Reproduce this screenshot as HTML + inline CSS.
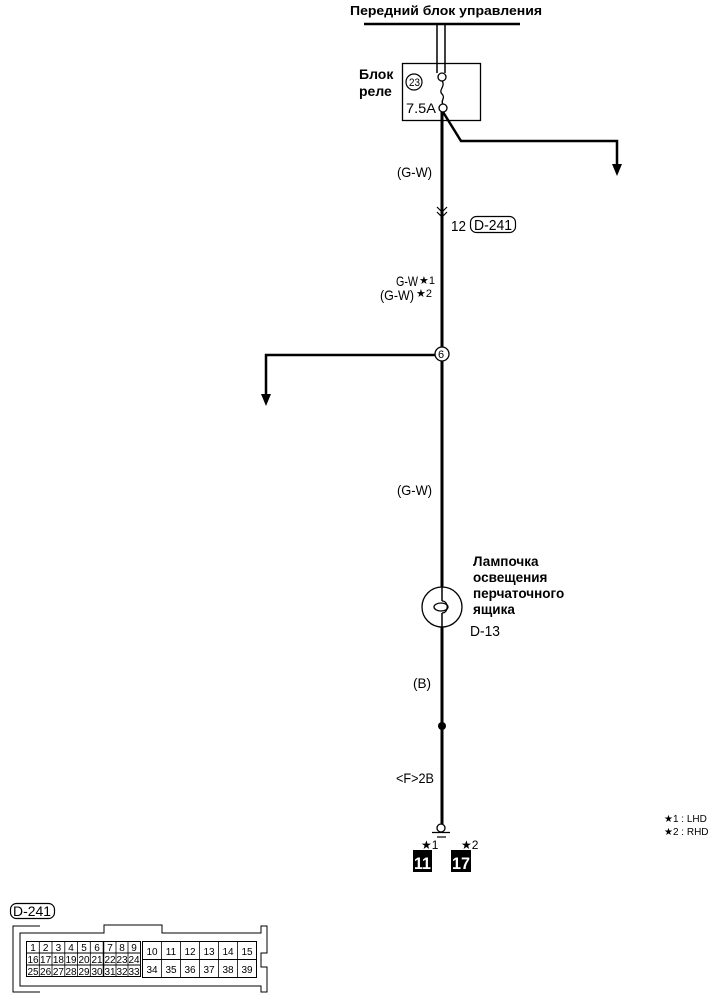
<!DOCTYPE html>
<html><head><meta charset="utf-8"><style>
html,body{margin:0;padding:0;background:#fff;}
svg{display:block;}
text{font-family:"Liberation Sans",sans-serif;}
.b{font-weight:bold;}
.c{font-size:10px;text-anchor:middle;}
</style></head><body>
<svg width="725" height="1004" viewBox="0 0 725 1004" xmlns="http://www.w3.org/2000/svg">
<g stroke="#000" fill="none">
<line x1="364" y1="24" x2="520" y2="24" stroke-width="2.5"/>
<line x1="437" y1="24" x2="437" y2="73" stroke-width="1.5"/>
<line x1="445" y1="24" x2="445" y2="73" stroke-width="1.5"/>
<rect x="402.5" y="63.5" width="78" height="57" stroke-width="1.3"/>
<circle cx="442" cy="77" r="4" stroke-width="1.3" fill="#fff"/>
<circle cx="443" cy="108" r="4" stroke-width="1.3" fill="#fff"/>
<path d="M442 81 C446 86 438 90 442 94 C446 98 440 101 443 104" stroke-width="1.3"/>
<circle cx="414" cy="82" r="8" stroke-width="1.2"/>
<line x1="442" y1="112" x2="442" y2="826" stroke-width="3"/>
<polyline points="443,112 461,141 617,141 617,168" stroke-width="2.5"/>
<polygon points="612,164 622,164 617,176" fill="#000" stroke="none"/>
<polyline points="437,207 442,212 447,207" stroke-width="1.2"/>
<polyline points="437,212 442,217 447,212" stroke-width="1.2"/>
<rect x="470.5" y="216.5" width="45" height="16" rx="6" stroke-width="1.2"/>
<polyline points="435,355 266,355 266,398" stroke-width="2.5"/>
<polygon points="261,394 271,394 266,406" fill="#000" stroke="none"/>
<circle cx="442" cy="354" r="7" fill="#fff" stroke-width="1.3"/>
<circle cx="442" cy="607" r="20" fill="#fff" stroke-width="1.3"/>
<path d="M442 587 L442 601 M442 613 L442 627" stroke-width="1.5"/>
<path d="M442 601 C449 601 449 613 442 613" stroke-width="1.3"/>
<ellipse cx="441" cy="607" rx="7" ry="4" stroke-width="1.3"/>
<circle cx="442" cy="726" r="4" fill="#000" stroke="none"/>
<circle cx="441" cy="828" r="4" fill="#fff" stroke-width="1.3"/>
<line x1="432" y1="832.5" x2="450" y2="832.5" stroke-width="1.3"/>
<line x1="437" y1="837" x2="446" y2="837" stroke-width="1.2"/>
<rect x="413" y="850" width="19" height="22" fill="#000" stroke="none"/>
<rect x="451" y="850" width="20" height="22" fill="#000" stroke="none"/>
</g>
<text class="b" x="350" y="15" font-size="13" textLength="192" lengthAdjust="spacingAndGlyphs">Передний блок управления</text>
<text x="409" y="86" font-size="11" textLength="11" lengthAdjust="spacingAndGlyphs">23</text>
<text class="b" x="359" y="79" font-size="14">Блок</text>
<text class="b" x="359" y="96" font-size="14">реле</text>
<text x="406" y="113" font-size="14" textLength="30" lengthAdjust="spacingAndGlyphs">7.5A</text>
<text x="397" y="177" font-size="14" textLength="35" lengthAdjust="spacingAndGlyphs">(G-W)</text>
<text x="451" y="231" font-size="15" textLength="15" lengthAdjust="spacingAndGlyphs">12</text>
<text x="474" y="230" font-size="15" textLength="38" lengthAdjust="spacingAndGlyphs">D-241</text>
<text x="396" y="286" font-size="14" textLength="22" lengthAdjust="spacingAndGlyphs">G-W</text>
<text x="419" y="284" font-size="11">★1</text>
<text x="380" y="300" font-size="14" textLength="34" lengthAdjust="spacingAndGlyphs">(G-W)</text>
<text x="416" y="297" font-size="11">★2</text>
<text x="438" y="358" font-size="11">6</text>
<text x="397" y="495" font-size="14" textLength="35" lengthAdjust="spacingAndGlyphs">(G-W)</text>
<text class="b" x="473" y="566" font-size="13.5">Лампочка</text>
<text class="b" x="473" y="582" font-size="13.5">освещения</text>
<text class="b" x="473" y="598" font-size="13.5">перчаточного</text>
<text class="b" x="473" y="614" font-size="13.5">ящика</text>
<text x="470" y="636" font-size="15" textLength="30" lengthAdjust="spacingAndGlyphs">D-13</text>
<text x="413" y="688" font-size="14" textLength="18" lengthAdjust="spacingAndGlyphs">(B)</text>
<text x="396" y="783" font-size="14" textLength="38" lengthAdjust="spacingAndGlyphs">&lt;F&gt;2B</text>
<text x="421" y="849" font-size="12">★1</text>
<text x="461" y="849" font-size="12">★2</text>
<text x="414" y="869" font-size="17" font-weight="bold" style="fill:#fff" textLength="17" lengthAdjust="spacingAndGlyphs">11</text>
<text x="452" y="869" font-size="17" font-weight="bold" style="fill:#fff" textLength="18" lengthAdjust="spacingAndGlyphs">17</text>
<text x="664" y="822" font-size="10">★1 : LHD</text>
<text x="664" y="835" font-size="10">★2 : RHD</text>
<g stroke="#000" fill="none" stroke-width="1">
<rect x="10.5" y="903.5" width="44" height="15" rx="6" stroke-width="1.2"/>
<path d="M40 926 L13 926 L13 992 L40 992"/>
<path d="M20 933 L104 933 L104 925 L162 925 L162 933 L261 933 L261 926 L267 926 L267 953 L261 953 L261 967 L267 967 L267 992 L261 992 L261 986 L20 986 Z"/>
<rect x="26.5" y="941.5" width="114" height="35"/>
<rect x="142.5" y="941.5" width="114" height="36"/>
<line x1="26.5" y1="953" x2="140.5" y2="953"/>
<line x1="26.5" y1="965" x2="140.5" y2="965"/>
<line x1="142.5" y1="959.5" x2="256.5" y2="959.5"/>
<line x1="103.5" y1="941.5" x2="103.5" y2="976.5" stroke-width="1.5"/>
</g>
<g stroke="#000" stroke-width="0.8">
<line x1="39.3" y1="941.5" x2="39.3" y2="976.5"/><line x1="52" y1="941.5" x2="52" y2="976.5"/>
<line x1="64.8" y1="941.5" x2="64.8" y2="976.5"/><line x1="77.5" y1="941.5" x2="77.5" y2="976.5"/>
<line x1="90.3" y1="941.5" x2="90.3" y2="976.5"/>
<line x1="116" y1="941.5" x2="116" y2="976.5"/><line x1="128" y1="941.5" x2="128" y2="976.5"/>
<line x1="161.5" y1="941.5" x2="161.5" y2="977.5"/><line x1="180.5" y1="941.5" x2="180.5" y2="977.5"/>
<line x1="199.5" y1="941.5" x2="199.5" y2="977.5"/><line x1="218.5" y1="941.5" x2="218.5" y2="977.5"/>
<line x1="237.5" y1="941.5" x2="237.5" y2="977.5"/>
</g>
<text x="13" y="916" font-size="14" textLength="38" lengthAdjust="spacingAndGlyphs">D-241</text>
<text class="c" x="33" y="951">1</text><text class="c" x="45.6" y="951">2</text><text class="c" x="58.4" y="951">3</text><text class="c" x="71" y="951">4</text><text class="c" x="84" y="951">5</text><text class="c" x="97" y="951">6</text><text class="c" x="110" y="951">7</text><text class="c" x="122" y="951">8</text><text class="c" x="134" y="951">9</text>
<text class="c" x="33" y="963">16</text><text class="c" x="45.6" y="963">17</text><text class="c" x="58.4" y="963">18</text><text class="c" x="71" y="963">19</text><text class="c" x="84" y="963">20</text><text class="c" x="97" y="963">21</text><text class="c" x="110" y="963">22</text><text class="c" x="122" y="963">23</text><text class="c" x="134" y="963">24</text>
<text class="c" x="33" y="975">25</text><text class="c" x="45.6" y="975">26</text><text class="c" x="58.4" y="975">27</text><text class="c" x="71" y="975">28</text><text class="c" x="84" y="975">29</text><text class="c" x="97" y="975">30</text><text class="c" x="110" y="975">31</text><text class="c" x="122" y="975">32</text><text class="c" x="134" y="975">33</text>
<text class="c" x="152" y="955">10</text><text class="c" x="171" y="955">11</text><text class="c" x="190" y="955">12</text><text class="c" x="209" y="955">13</text><text class="c" x="228" y="955">14</text><text class="c" x="247" y="955">15</text>
<text class="c" x="152" y="973">34</text><text class="c" x="171" y="973">35</text><text class="c" x="190" y="973">36</text><text class="c" x="209" y="973">37</text><text class="c" x="228" y="973">38</text><text class="c" x="247" y="973">39</text>
</svg>
</body></html>
